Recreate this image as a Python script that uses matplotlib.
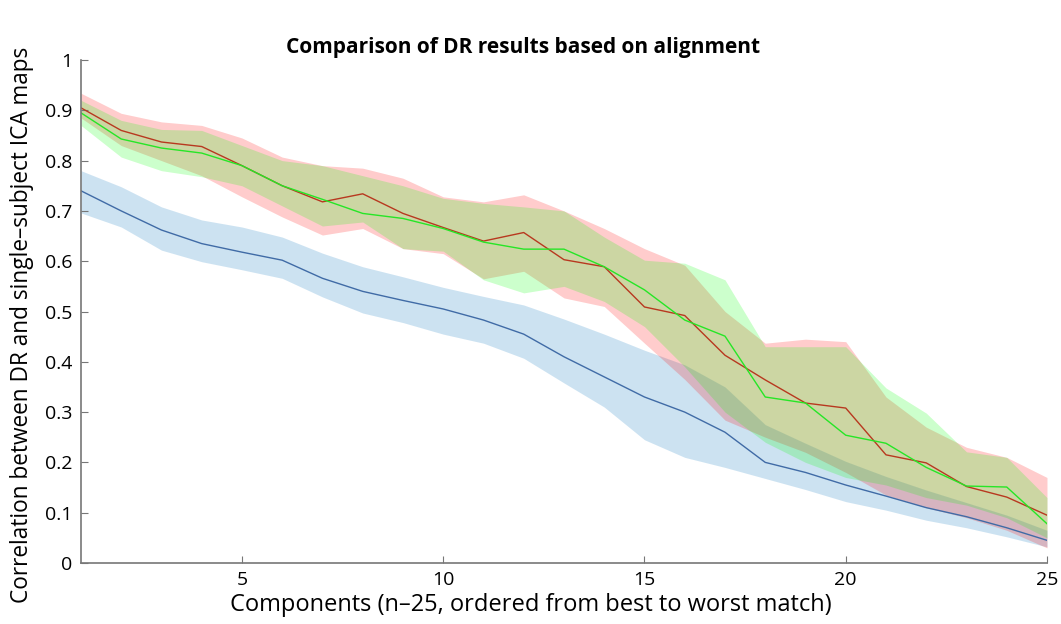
import numpy as np
import matplotlib
matplotlib.use('Agg')
from matplotlib import pyplot as plt

plt.rcParams['font.family'] = ['Open Sans', 'DejaVu Sans']

comp = np.arange(1, 26)

# mean correlation per component
blue_mean = [0.74, 0.70, 0.662, 0.635, 0.618, 0.602, 0.566, 0.54, 0.522, 0.505,
             0.483, 0.455, 0.41, 0.37, 0.33, 0.30, 0.26, 0.20, 0.18, 0.155,
             0.133, 0.11, 0.092, 0.07, 0.045]
blue_hi = [0.78, 0.748, 0.708, 0.682, 0.668, 0.648, 0.616, 0.589, 0.569, 0.548,
           0.53, 0.513, 0.485, 0.455, 0.423, 0.394, 0.35, 0.275, 0.238, 0.202,
           0.172, 0.145, 0.12, 0.095, 0.065]
blue_lo = [0.696, 0.668, 0.622, 0.599, 0.583, 0.566, 0.529, 0.497, 0.478, 0.455,
           0.437, 0.407, 0.358, 0.31, 0.245, 0.21, 0.19, 0.168, 0.146, 0.122,
           0.105, 0.085, 0.07, 0.052, 0.032]

red_mean = [0.905, 0.86, 0.837, 0.828, 0.79, 0.75, 0.718, 0.734, 0.695, 0.667,
            0.64, 0.657, 0.603, 0.589, 0.509, 0.492, 0.413, 0.364, 0.318, 0.308,
            0.215, 0.199, 0.152, 0.131, 0.095]
red_hi = [0.934, 0.894, 0.877, 0.87, 0.845, 0.807, 0.79, 0.785, 0.765, 0.728,
          0.718, 0.732, 0.70, 0.665, 0.625, 0.592, 0.50, 0.437, 0.445, 0.44,
          0.33, 0.27, 0.23, 0.21, 0.17]
red_lo = [0.885, 0.83, 0.80, 0.77, 0.728, 0.688, 0.652, 0.665, 0.625, 0.615,
          0.565, 0.58, 0.527, 0.51, 0.437, 0.365, 0.284, 0.25, 0.22, 0.18,
          0.135, 0.11, 0.09, 0.065, 0.03]

green_mean = [0.895, 0.843, 0.825, 0.815, 0.79, 0.75, 0.723, 0.695, 0.685, 0.665,
              0.638, 0.624, 0.624, 0.589, 0.543, 0.483, 0.451, 0.33, 0.318, 0.254,
              0.238, 0.19, 0.153, 0.151, 0.078]
green_hi = [0.92, 0.88, 0.862, 0.86, 0.83, 0.80, 0.79, 0.77, 0.75, 0.725,
            0.715, 0.708, 0.70, 0.648, 0.602, 0.596, 0.563, 0.43, 0.43, 0.43,
            0.348, 0.298, 0.221, 0.21, 0.13]
green_lo = [0.87, 0.807, 0.78, 0.768, 0.75, 0.71, 0.67, 0.678, 0.625, 0.62,
            0.563, 0.537, 0.55, 0.52, 0.47, 0.39, 0.30, 0.24, 0.20, 0.17,
            0.155, 0.13, 0.115, 0.09, 0.05]

fig = plt.figure(figsize=(10.61, 6.24), dpi=100)
ax = fig.add_axes([0.0763, 0.0978, 0.9105, 0.806])

ax.fill_between(comp, blue_lo, blue_hi, color=(0, 0.447, 0.741), alpha=0.2, lw=0)
ax.fill_between(comp, red_lo, red_hi, color=(1, 0, 0), alpha=0.2, lw=0)
ax.fill_between(comp, green_lo, green_hi, color=(0, 1, 0), alpha=0.2, lw=0)
ax.plot(comp, blue_mean, color=(0.25, 0.42, 0.65), lw=1)
ax.plot(comp, red_mean, color=(0.72, 0.22, 0.12), lw=1)
ax.plot(comp, green_mean, color=(0.15, 0.9, 0.15), lw=1)

ax.set_xlim(1, 25)
ax.set_ylim(0, 1)
ax.set_xticks([5, 10, 15, 20, 25])
ax.set_yticks(np.arange(0, 1.01, 0.1))
ax.set_yticklabels(['0', '0.1', '0.2', '0.3', '0.4', '0.5', '0.6', '0.7', '0.8', '0.9', '1'])
ax.spines['top'].set_visible(False)
ax.spines['right'].set_visible(False)
for s in ['left', 'bottom']:
    ax.spines[s].set_color('#777777')
    ax.spines[s].set_linewidth(1.2)
ax.tick_params(direction='in', length=5, color='#777777', labelsize=14, pad=6)

fig.text(523 / 1061, 1 - 47 / 624, 'Comparison of DR results based on alignment',
         fontsize=15, fontweight='bold', ha='center', va='center')
ax.set_xlabel('Components (n–25, ordered from best to worst match)', fontsize=17,
              va='center', ha='center')
ax.xaxis.set_label_coords(0.466, -0.0835)
ax.set_ylabel('Correlation between DR and single–subject ICA maps', fontsize=16.3,
              va='center', ha='center')
ax.yaxis.set_label_coords(-0.061, 0.473)

fig.savefig('out.png', dpi=100)
